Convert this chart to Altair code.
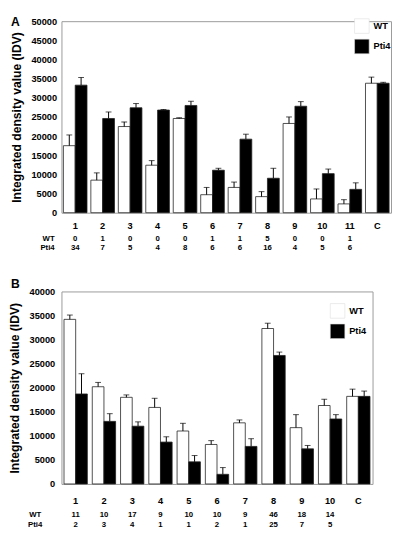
import altair as alt
import pandas as pd

FONT = "Liberation Sans"

# ---------- Panel A data ----------
cats_a = ["1", "2", "3", "4", "5", "6", "7", "8", "9", "10", "11", "C"]
wt_a = [17500, 8500, 22500, 12400, 24600, 4700, 6600, 4200, 23300, 3600, 2300, 33800]
wt_err_a = [2800, 1900, 1200, 1200, 200, 1900, 1400, 1300, 1700, 2600, 1100, 1600]
pti4_a = [33300, 24600, 27400, 26800, 28000, 11100, 19200, 9000, 27800, 10200, 6100, 33800]
pti4_err_a = [2000, 1700, 1100, 150, 1100, 500, 1300, 2600, 1200, 1200, 1700, 250]
wt_n_a = ["0", "1", "0", "0", "0", "1", "1", "5", "0", "0", "1", ""]
pti4_n_a = ["34", "7", "5", "4", "8", "6", "6", "16", "4", "5", "6", ""]

# ---------- Panel B data ----------
cats_b = ["1", "2", "3", "4", "5", "6", "7", "8", "9", "10", "C"]
wt_b = [34200, 20200, 18000, 15900, 11000, 8200, 12700, 32300, 11700, 16300, 18200]
wt_err_b = [900, 900, 500, 1900, 1600, 800, 600, 1100, 2700, 1300, 1500]
pti4_b = [18700, 13000, 12000, 8700, 4600, 2000, 7800, 26700, 7300, 13500, 18200]
pti4_err_b = [4200, 1600, 900, 1100, 1300, 1400, 1600, 700, 700, 900, 1100]
wt_n_b = ["11", "10", "17", "9", "10", "10", "9", "46", "18", "14", ""]
pti4_n_b = ["2", "3", "4", "1", "1", "2", "1", "25", "7", "5", ""]

genos = ["WT", "Pti4"]


def panel(cats, wt, wt_err, pti, pti_err, wt_n, pti_n, ymax, w, h, letter,
          lx, ly, pin, pout, xlabpad, ylabpad, row1, row2, rl_x, rl_align,
          let_y, let_base):
    rows = []
    for c, v, e in zip(cats, wt, wt_err):
        rows.append({"cat": c, "geno": "WT", "val": v, "top": v + e})
    for c, v, e in zip(cats, pti, pti_err):
        rows.append({"cat": c, "geno": "Pti4", "val": v, "top": v + e})
    df = pd.DataFrame(rows)
    counts = pd.DataFrame({"cat": cats, "wt": wt_n, "pti": pti_n})
    dummy = pd.DataFrame({"d": [0]})

    x = alt.X("cat:N", sort=cats,
              scale=alt.Scale(paddingInner=pin, paddingOuter=pout),
              axis=alt.Axis(title=None, labelAngle=0, ticks=False, domain=False,
                            labelFont=FONT, labelFontWeight="bold", labelFontSize=9.5,
                            labelColor="black", labelPadding=xlabpad))
    xo = alt.XOffset("geno:N", sort=genos,
                     scale=alt.Scale(domain=genos, paddingInner=0, paddingOuter=0))
    yaxis = alt.Axis(values=list(range(0, ymax + 1, 5000)), format="d",
                     labelOverlap=False, labelFlush=False,
                     title="Integrated density value (IDV)",
                     titleFont=FONT, titleFontWeight="bold", titleFontSize=12.5,
                     titleColor="black", titlePadding=8,
                     ticks=False, domain=False, grid=False,
                     labelFont=FONT, labelFontWeight="bold", labelFontSize=9.5,
                     labelColor="black", labelPadding=ylabpad)
    yscale = alt.Scale(domain=[0, ymax], nice=False)

    def Y(field):
        return alt.Y(field, scale=yscale, axis=yaxis)

    bars = alt.Chart(df).mark_bar(stroke="#222", strokeWidth=0.8).encode(
        x=x, xOffset=xo, y=Y("val:Q"),
        fill=alt.Fill("geno:N", sort=genos,
                      scale=alt.Scale(domain=genos, range=["white", "black"]),
                      legend=alt.Legend(title=None, orient="none", legendX=lx, legendY=ly,
                                        symbolType="square", symbolSize=225,
                                        symbolStrokeColor="#dddddd", symbolStrokeWidth=0.6,
                                        labelFont=FONT, labelFontWeight="bold",
                                        labelFontSize=9.5, labelColor="black",
                                        labelOffset=4, rowPadding=3, padding=0)))
    err = alt.Chart(df).mark_rule(color="black", strokeWidth=1).encode(
        x=x, xOffset=xo, y=Y("val:Q"), y2="top:Q")
    cap = alt.Chart(df).mark_tick(color="black", thickness=1, size=6,
                                  orient="horizontal").encode(
        x=x, xOffset=xo, y=Y("top:Q"))

    t1 = alt.Chart(counts).mark_text(font=FONT, fontWeight="bold", fontSize=8,
                                     baseline="middle", color="black").encode(
        x=x, y=alt.value(h + row1), text="wt:N")
    t2 = alt.Chart(counts).mark_text(font=FONT, fontWeight="bold", fontSize=8,
                                     baseline="middle", color="black").encode(
        x=x, y=alt.value(h + row2), text="pti:N")
    l1 = alt.Chart(dummy).mark_text(font=FONT, fontWeight="bold", fontSize=8,
                                    baseline="middle", align=rl_align, color="black").encode(
        x=alt.value(rl_x), y=alt.value(h + row1), text=alt.value("WT"))
    l2 = alt.Chart(dummy).mark_text(font=FONT, fontWeight="bold", fontSize=8,
                                    baseline="middle", align=rl_align, color="black").encode(
        x=alt.value(rl_x), y=alt.value(h + row2), text=alt.value("Pti4"))
    let = alt.Chart(dummy).mark_text(font=FONT, fontWeight="bold", fontSize=12.5,
                                     baseline=let_base, align="left", color="black").encode(
        x=alt.value(-52), y=alt.value(let_y), text=alt.value(letter))

    return alt.layer(bars, err, cap, t1, t2, l1, l2, let).properties(width=w, height=h)


pa = panel(cats_a, wt_a, wt_err_a, pti4_a, pti4_err_a, wt_n_a, pti4_n_a, 50000,
           339, 197, "A", 301, -3, 0.14, 0.07, 8, 5, 26.7, 36.7, -7, "right", -5, "top")
pb = panel(cats_b, wt_b, wt_err_b, pti4_b, pti4_err_b, wt_n_b, pti4_n_b, 40000,
           320, 198, "B", 276, 12, 0.175, 0.09, 12, 7, 32, 42.5, -27, "center", -4, "alphabetic")

chart = alt.vconcat(pa, pb, spacing=24).resolve_scale(
    x="independent", y="independent", fill="independent", xOffset="independent"
).resolve_legend(fill="independent").properties(
    padding=0, background="white"
).configure_view(stroke="#999999", strokeWidth=1)

chart.save("out.html", embed_options={"renderer": "svg", "actions": False})
